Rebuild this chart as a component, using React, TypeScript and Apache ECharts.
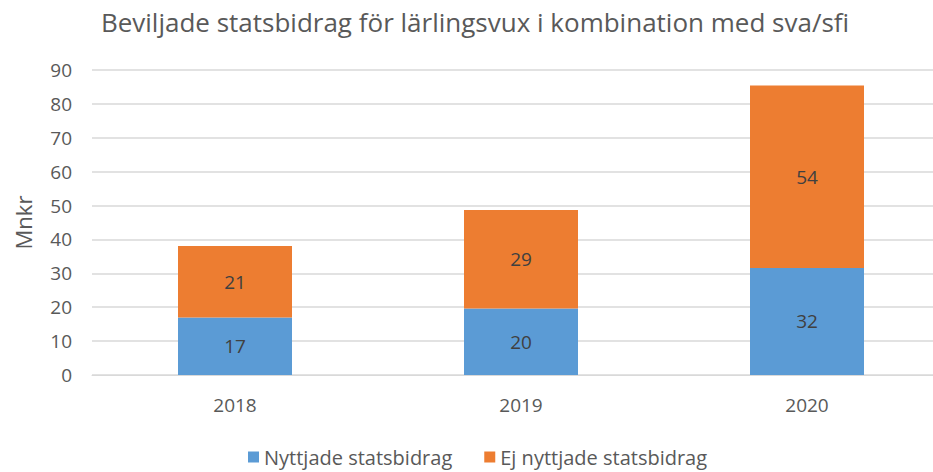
import React, { useEffect, useRef } from "react";
import * as echarts from "echarts";

const categories = ["2018", "2019", "2020"];
const usedValues = [17.0, 19.6, 31.6];
const unusedValues = [21.1, 29.1, 53.8];
const seriesNames = ["Nyttjade statsbidrag", "Ej nyttjade statsbidrag"];
const titleText = "Beviljade statsbidrag för lärlingsvux i kombination med sva/sfi";
const yName = "Mnkr";

const FONT = "'Open Sans', sans-serif";

export default function App() {
  const ref = useRef<HTMLDivElement>(null);
  useEffect(() => {
    if (!ref.current) return;
    const chart = echarts.init(ref.current, undefined, { renderer: "svg" });
    const label = {
      show: true,
      position: "inside",
      color: "#404040",
      fontSize: 19,
      fontFamily: FONT,
      formatter: (p: any) => String(Math.round(p.value)),
    };
    chart.setOption({
      animation: false,
      backgroundColor: "#ffffff",
      title: {
        text: titleText,
        left: 470,
        top: 4,
        textAlign: "center",
        textStyle: { color: "#595959", fontSize: 26, fontWeight: "normal", fontFamily: FONT },
      },
      legend: {
        top: 442,
        left: 243,
        itemWidth: 11,
        itemHeight: 11,
        itemGap: 32,
        icon: "rect",
        textStyle: { color: "#595959", fontSize: 20, fontFamily: FONT },
        data: seriesNames,
      },
      grid: { left: 92, top: 70, width: 858, height: 305 },
      xAxis: {
        type: "category",
        data: categories,
        axisLine: { show: true, lineStyle: { color: "#D9D9D9" } },
        axisTick: { show: false },
        axisLabel: { color: "#595959", fontSize: 19, fontFamily: FONT, margin: 20 },
      },
      yAxis: {
        type: "value",
        min: 0,
        max: 90,
        interval: 10,
        name: yName,
        nameLocation: "middle",
        nameGap: 58,
        nameTextStyle: { color: "#595959", fontSize: 22, fontFamily: FONT },
        axisLine: { show: false },
        axisTick: { show: false },
        axisLabel: { color: "#595959", fontSize: 19, fontFamily: FONT, margin: 20 },
        splitLine: { lineStyle: { color: "#D9D9D9", width: 1.5 } },
      },
      series: [
        {
          name: seriesNames[0],
          type: "bar",
          stack: "total",
          barWidth: 114,
          data: usedValues,
          itemStyle: { color: "#5B9BD5" },
          label,
        },
        {
          name: seriesNames[1],
          type: "bar",
          stack: "total",
          barWidth: 114,
          data: unusedValues,
          itemStyle: { color: "#ED7D31" },
          label,
        },
      ],
    });
    return () => chart.dispose();
  }, []);
  return (
    <div
      style={{ position: "fixed", left: 0, top: 0, width: 933, height: 472, overflow: "hidden", background: "#fff" }}
    >
      <div ref={ref} style={{ width: 960, height: 472 }} />
    </div>
  );
}
